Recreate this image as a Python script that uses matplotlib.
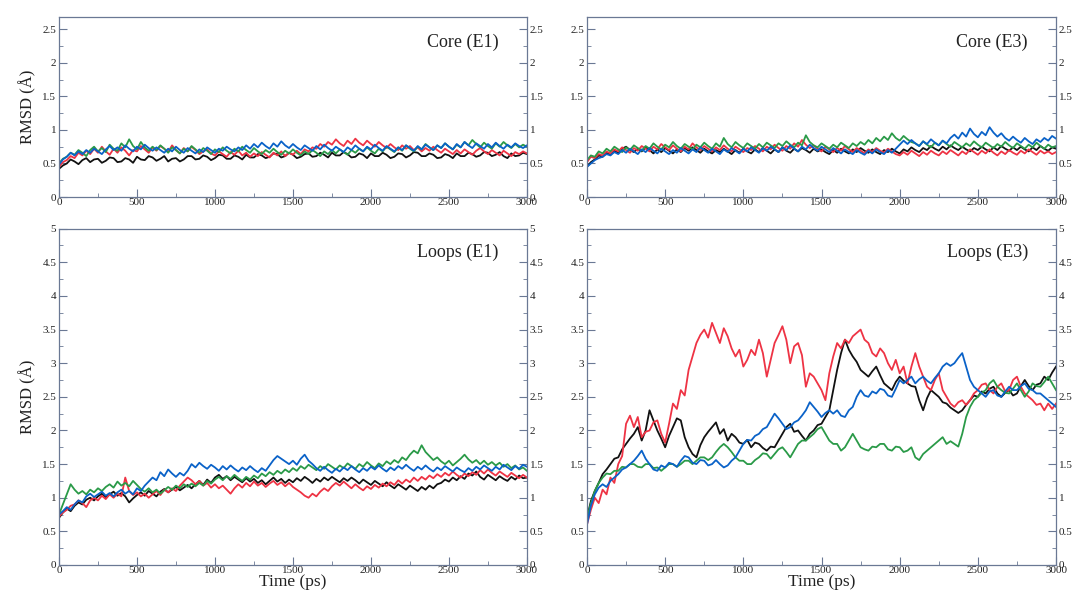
import numpy as np
import matplotlib
matplotlib.use("Agg")
import matplotlib.pyplot as plt
from matplotlib.ticker import MultipleLocator

# RMSD traces, one value every 25 ps (0 .. 3000 ps)
core_e1_black = [0.42, 0.47, 0.50, 0.56, 0.53, 0.49, 0.55, 0.58, 0.52, 0.56, 0.57, 0.51, 0.54, 0.59, 0.58, 0.52,
                 0.53, 0.58, 0.56, 0.51, 0.60, 0.56, 0.55, 0.61, 0.59, 0.54, 0.57, 0.61, 0.53, 0.57, 0.58, 0.53,
                 0.56, 0.61, 0.61, 0.56, 0.57, 0.62, 0.60, 0.55, 0.58, 0.63, 0.62, 0.57, 0.57, 0.62, 0.60, 0.56,
                 0.63, 0.59, 0.59, 0.64, 0.62, 0.58, 0.60, 0.65, 0.64, 0.59, 0.61, 0.66, 0.63, 0.58, 0.60, 0.64,
                 0.65, 0.60, 0.61, 0.66, 0.63, 0.59, 0.66, 0.62, 0.62, 0.67, 0.64, 0.59, 0.60, 0.65, 0.63, 0.58,
                 0.65, 0.61, 0.61, 0.66, 0.63, 0.58, 0.60, 0.65, 0.64, 0.59, 0.62, 0.67, 0.66, 0.61, 0.61, 0.65,
                 0.63, 0.58, 0.59, 0.64, 0.62, 0.58, 0.65, 0.61, 0.61, 0.66, 0.64, 0.60, 0.62, 0.67, 0.66, 0.61,
                 0.63, 0.67, 0.61, 0.58, 0.65, 0.61, 0.62, 0.66, 0.64]
core_e1_red = [0.45, 0.52, 0.55, 0.61, 0.58, 0.66, 0.62, 0.69, 0.64, 0.72, 0.66, 0.75, 0.68, 0.63, 0.72, 0.66,
               0.74, 0.69, 0.62, 0.70, 0.68, 0.76, 0.71, 0.66, 0.74, 0.69, 0.76, 0.72, 0.67, 0.77, 0.70, 0.65,
               0.73, 0.68, 0.75, 0.70, 0.64, 0.68, 0.71, 0.65, 0.62, 0.68, 0.64, 0.60, 0.67, 0.63, 0.69, 0.62,
               0.66, 0.60, 0.65, 0.61, 0.67, 0.63, 0.59, 0.66, 0.62, 0.68, 0.61, 0.66, 0.63, 0.69, 0.64, 0.71,
               0.68, 0.74, 0.72, 0.79, 0.75, 0.82, 0.78, 0.86, 0.80, 0.76, 0.84, 0.79, 0.87, 0.81, 0.77, 0.84,
               0.79, 0.75, 0.82, 0.77, 0.73, 0.79, 0.74, 0.70, 0.77, 0.72, 0.76, 0.70, 0.74, 0.68, 0.73, 0.69,
               0.75, 0.70, 0.66, 0.72, 0.68, 0.64, 0.70, 0.65, 0.71, 0.67, 0.63, 0.69, 0.73, 0.68, 0.64, 0.70,
               0.66, 0.62, 0.69, 0.65, 0.61, 0.67, 0.64, 0.68, 0.65]
core_e1_green = [0.50, 0.57, 0.60, 0.66, 0.63, 0.70, 0.66, 0.61, 0.70, 0.75, 0.68, 0.73, 0.67, 0.78, 0.72, 0.69,
                 0.80, 0.74, 0.86, 0.76, 0.71, 0.82, 0.74, 0.69, 0.75, 0.70, 0.77, 0.72, 0.66, 0.74, 0.70, 0.65,
                 0.72, 0.68, 0.76, 0.71, 0.66, 0.73, 0.69, 0.64, 0.71, 0.67, 0.74, 0.69, 0.65, 0.72, 0.68, 0.75,
                 0.70, 0.66, 0.73, 0.68, 0.64, 0.70, 0.66, 0.72, 0.67, 0.63, 0.69, 0.65, 0.71, 0.66, 0.62, 0.68,
                 0.64, 0.70, 0.66, 0.61, 0.68, 0.64, 0.70, 0.65, 0.71, 0.67, 0.63, 0.70, 0.66, 0.72, 0.68, 0.74,
                 0.69, 0.65, 0.72, 0.68, 0.75, 0.71, 0.67, 0.74, 0.69, 0.77, 0.72, 0.68, 0.75, 0.71, 0.79, 0.74,
                 0.70, 0.77, 0.73, 0.80, 0.75, 0.71, 0.78, 0.74, 0.82, 0.77, 0.85, 0.79, 0.74, 0.81, 0.76, 0.72,
                 0.80, 0.75, 0.82, 0.77, 0.73, 0.79, 0.74, 0.78, 0.75]
core_e1_blue = [0.48, 0.56, 0.60, 0.66, 0.62, 0.68, 0.64, 0.70, 0.66, 0.72, 0.68, 0.64, 0.71, 0.76, 0.70, 0.74,
                0.69, 0.77, 0.72, 0.68, 0.75, 0.71, 0.78, 0.73, 0.69, 0.74, 0.70, 0.66, 0.72, 0.68, 0.75, 0.70,
                0.66, 0.73, 0.69, 0.65, 0.71, 0.67, 0.74, 0.70, 0.66, 0.72, 0.69, 0.75, 0.71, 0.68, 0.74, 0.70,
                0.77, 0.72, 0.79, 0.74, 0.81, 0.76, 0.72, 0.80, 0.75, 0.83, 0.77, 0.73, 0.79, 0.74, 0.70, 0.77,
                0.73, 0.69, 0.76, 0.71, 0.78, 0.73, 0.69, 0.75, 0.71, 0.67, 0.74, 0.70, 0.77, 0.72, 0.68, 0.75,
                0.71, 0.78, 0.73, 0.69, 0.76, 0.72, 0.68, 0.74, 0.70, 0.77, 0.73, 0.69, 0.76, 0.71, 0.78, 0.74,
                0.70, 0.77, 0.73, 0.80, 0.75, 0.71, 0.79, 0.74, 0.82, 0.77, 0.73, 0.80, 0.76, 0.72, 0.79, 0.74,
                0.81, 0.76, 0.72, 0.78, 0.74, 0.80, 0.76, 0.73, 0.77]

core_e3_black = [0.45, 0.52, 0.56, 0.62, 0.60, 0.66, 0.63, 0.69, 0.66, 0.72, 0.75, 0.70, 0.67, 0.72, 0.68, 0.74,
                 0.70, 0.65, 0.71, 0.67, 0.73, 0.69, 0.65, 0.71, 0.67, 0.73, 0.69, 0.74, 0.70, 0.66, 0.72, 0.68,
                 0.65, 0.70, 0.67, 0.72, 0.68, 0.64, 0.70, 0.66, 0.72, 0.68, 0.65, 0.71, 0.67, 0.73, 0.69, 0.65,
                 0.71, 0.67, 0.74, 0.69, 0.66, 0.72, 0.68, 0.73, 0.70, 0.66, 0.72, 0.68, 0.71, 0.67, 0.64, 0.70,
                 0.66, 0.72, 0.68, 0.65, 0.71, 0.67, 0.73, 0.69, 0.66, 0.71, 0.67, 0.64, 0.70, 0.67, 0.72, 0.68,
                 0.65, 0.71, 0.68, 0.74, 0.70, 0.67, 0.73, 0.70, 0.76, 0.72, 0.69, 0.75, 0.71, 0.77, 0.73, 0.70,
                 0.75, 0.71, 0.68, 0.73, 0.70, 0.75, 0.71, 0.68, 0.74, 0.70, 0.76, 0.72, 0.69, 0.74, 0.70, 0.75,
                 0.71, 0.68, 0.74, 0.70, 0.76, 0.72, 0.69, 0.74, 0.72]
core_e3_red = [0.52, 0.60, 0.58, 0.64, 0.62, 0.68, 0.65, 0.71, 0.68, 0.74, 0.70, 0.66, 0.73, 0.69, 0.76, 0.72,
               0.68, 0.75, 0.71, 0.79, 0.74, 0.70, 0.77, 0.72, 0.68, 0.75, 0.71, 0.80, 0.74, 0.70, 0.76, 0.72,
               0.68, 0.74, 0.70, 0.77, 0.72, 0.68, 0.75, 0.71, 0.67, 0.73, 0.70, 0.76, 0.72, 0.68, 0.75, 0.71,
               0.78, 0.73, 0.69, 0.76, 0.72, 0.80, 0.75, 0.85, 0.78, 0.73, 0.77, 0.72, 0.68, 0.75, 0.71, 0.67,
               0.73, 0.69, 0.76, 0.71, 0.67, 0.73, 0.69, 0.65, 0.71, 0.67, 0.73, 0.69, 0.66, 0.72, 0.68, 0.64,
               0.62, 0.67, 0.63, 0.69, 0.65, 0.61, 0.67, 0.63, 0.69, 0.65, 0.62, 0.68, 0.64, 0.70, 0.66, 0.62,
               0.68, 0.64, 0.71, 0.67, 0.63, 0.69, 0.65, 0.71, 0.66, 0.62, 0.68, 0.64, 0.70, 0.66, 0.63, 0.69,
               0.65, 0.71, 0.67, 0.63, 0.69, 0.65, 0.68, 0.64, 0.67]
core_e3_green = [0.55, 0.62, 0.60, 0.68, 0.65, 0.72, 0.68, 0.75, 0.71, 0.67, 0.74, 0.70, 0.77, 0.73, 0.69, 0.76,
                 0.72, 0.80, 0.75, 0.71, 0.78, 0.74, 0.82, 0.76, 0.72, 0.79, 0.75, 0.71, 0.78, 0.74, 0.81, 0.76,
                 0.72, 0.80, 0.75, 0.88, 0.79, 0.74, 0.82, 0.77, 0.73, 0.80, 0.76, 0.72, 0.79, 0.74, 0.81, 0.77,
                 0.73, 0.80, 0.76, 0.83, 0.78, 0.74, 0.81, 0.77, 0.92, 0.82, 0.77, 0.74, 0.80, 0.76, 0.72, 0.78,
                 0.74, 0.81, 0.77, 0.73, 0.80, 0.76, 0.82, 0.78, 0.85, 0.80, 0.88, 0.83, 0.90, 0.85, 0.95, 0.88,
                 0.84, 0.91, 0.86, 0.82, 0.80, 0.76, 0.83, 0.78, 0.74, 0.81, 0.77, 0.84, 0.79, 0.75, 0.82, 0.78,
                 0.74, 0.80, 0.76, 0.83, 0.78, 0.74, 0.81, 0.77, 0.73, 0.79, 0.75, 0.82, 0.77, 0.73, 0.80, 0.76,
                 0.72, 0.78, 0.74, 0.81, 0.76, 0.72, 0.78, 0.74, 0.76]
core_e3_blue = [0.45, 0.50, 0.55, 0.58, 0.60, 0.64, 0.62, 0.67, 0.64, 0.70, 0.66, 0.72, 0.68, 0.64, 0.71, 0.67,
                0.73, 0.69, 0.65, 0.72, 0.68, 0.64, 0.70, 0.66, 0.73, 0.69, 0.65, 0.71, 0.67, 0.74, 0.70, 0.66,
                0.72, 0.68, 0.64, 0.71, 0.67, 0.73, 0.69, 0.65, 0.72, 0.68, 0.74, 0.70, 0.66, 0.73, 0.69, 0.75,
                0.71, 0.67, 0.74, 0.70, 0.77, 0.72, 0.68, 0.75, 0.71, 0.78, 0.73, 0.69, 0.75, 0.71, 0.67, 0.73,
                0.69, 0.65, 0.71, 0.67, 0.64, 0.70, 0.66, 0.63, 0.69, 0.65, 0.71, 0.67, 0.64, 0.70, 0.66, 0.72,
                0.78, 0.84, 0.79, 0.85, 0.80, 0.76, 0.83, 0.79, 0.86, 0.81, 0.77, 0.84, 0.80, 0.88, 0.93, 0.87,
                0.96, 0.90, 1.02, 0.94, 0.89, 0.97, 0.92, 1.04, 0.96, 0.90, 0.95, 0.88, 0.84, 0.90, 0.85, 0.81,
                0.88, 0.83, 0.79, 0.86, 0.82, 0.88, 0.84, 0.91, 0.87]

loops_e1_black = [0.70, 0.78, 0.84, 0.80, 0.88, 0.93, 0.90, 0.97, 1.00, 0.96, 1.02, 1.06, 1.01, 1.05, 1.09, 1.03,
                  1.07, 1.02, 0.93, 0.99, 1.04, 1.08, 1.03, 1.10, 1.06, 1.02, 1.09, 1.13, 1.08, 1.12, 1.16, 1.11,
                  1.15, 1.19, 1.14, 1.20, 1.25, 1.19, 1.27, 1.22, 1.30, 1.34, 1.28, 1.32, 1.26, 1.31, 1.27, 1.23,
                  1.29, 1.24, 1.28, 1.22, 1.26, 1.20, 1.25, 1.30, 1.24, 1.28, 1.22, 1.27, 1.23, 1.29, 1.25, 1.31,
                  1.27, 1.22, 1.28, 1.24, 1.30, 1.26, 1.31, 1.27, 1.23, 1.29, 1.25, 1.30, 1.26, 1.21, 1.27, 1.23,
                  1.19, 1.25, 1.21, 1.17, 1.23, 1.18, 1.14, 1.20, 1.16, 1.12, 1.18, 1.14, 1.10, 1.16, 1.12, 1.18,
                  1.14, 1.20, 1.22, 1.27, 1.24, 1.30, 1.26, 1.32, 1.28, 1.36, 1.33, 1.39, 1.31, 1.27, 1.34, 1.30,
                  1.26, 1.32, 1.28, 1.25, 1.31, 1.27, 1.33, 1.29, 1.30]
loops_e1_red = [0.72, 0.78, 0.82, 0.88, 0.90, 0.96, 0.92, 0.86, 0.96, 1.00, 0.96, 1.03, 0.98, 1.05, 1.00, 1.06,
                1.02, 1.30, 1.10, 1.04, 1.08, 1.02, 1.06, 1.00, 1.05, 1.10, 1.04, 1.12, 1.08, 1.14, 1.10, 1.18,
                1.24, 1.30, 1.26, 1.20, 1.25, 1.18, 1.22, 1.15, 1.20, 1.14, 1.18, 1.12, 1.06, 1.14, 1.20, 1.15,
                1.22, 1.17, 1.24, 1.18, 1.22, 1.16, 1.21, 1.25, 1.19, 1.23, 1.17, 1.22, 1.16, 1.12, 1.08, 1.03,
                1.00, 1.06, 1.02, 1.09, 1.14, 1.10, 1.17, 1.22, 1.18, 1.24, 1.19, 1.14, 1.20, 1.15, 1.11, 1.17,
                1.13, 1.19, 1.15, 1.21, 1.17, 1.23, 1.19, 1.26, 1.21, 1.27, 1.23, 1.30, 1.25, 1.31, 1.27, 1.33,
                1.29, 1.35, 1.31, 1.37, 1.33, 1.39, 1.34, 1.30, 1.36, 1.32, 1.38, 1.34, 1.41, 1.36, 1.42, 1.37,
                1.33, 1.39, 1.35, 1.31, 1.37, 1.33, 1.29, 1.34, 1.30]
loops_e1_green = [0.75, 0.90, 1.05, 1.20, 1.12, 1.06, 1.10, 1.05, 1.12, 1.08, 1.14, 1.10, 1.16, 1.20, 1.15, 1.24,
                  1.18, 1.22, 1.17, 1.25, 1.19, 1.13, 1.09, 1.14, 1.08, 1.12, 1.06, 1.11, 1.16, 1.12, 1.18, 1.14,
                  1.20, 1.16, 1.21, 1.17, 1.22, 1.18, 1.25, 1.21, 1.27, 1.31, 1.26, 1.32, 1.28, 1.34, 1.29, 1.25,
                  1.31, 1.27, 1.33, 1.29, 1.36, 1.32, 1.38, 1.34, 1.40, 1.36, 1.42, 1.38, 1.44, 1.40, 1.47, 1.43,
                  1.49, 1.45, 1.41, 1.47, 1.43, 1.50, 1.46, 1.42, 1.48, 1.44, 1.51, 1.47, 1.43, 1.50, 1.46, 1.53,
                  1.48, 1.44, 1.51, 1.47, 1.54, 1.50, 1.56, 1.52, 1.60, 1.56, 1.64, 1.70, 1.66, 1.78, 1.68, 1.62,
                  1.56, 1.60, 1.54, 1.50, 1.55, 1.48, 1.53, 1.58, 1.64, 1.57, 1.52, 1.56, 1.50, 1.55, 1.49, 1.53,
                  1.48, 1.52, 1.46, 1.50, 1.44, 1.48, 1.42, 1.45, 1.40]
loops_e1_blue = [0.75, 0.80, 0.86, 0.82, 0.90, 0.96, 0.93, 1.02, 1.06, 1.01, 1.05, 1.09, 1.03, 1.07, 1.02, 1.08,
                 1.12, 1.06, 1.10, 1.05, 1.14, 1.10, 1.18, 1.24, 1.30, 1.26, 1.38, 1.32, 1.42, 1.36, 1.31, 1.37,
                 1.33, 1.40, 1.50, 1.45, 1.52, 1.47, 1.43, 1.49, 1.45, 1.40, 1.47, 1.42, 1.48, 1.43, 1.39, 1.45,
                 1.41, 1.47, 1.42, 1.38, 1.44, 1.40, 1.48, 1.56, 1.62, 1.58, 1.54, 1.50, 1.55, 1.49, 1.58, 1.64,
                 1.55, 1.50, 1.44, 1.40, 1.46, 1.41, 1.37, 1.43, 1.39, 1.45, 1.41, 1.47, 1.42, 1.38, 1.44, 1.40,
                 1.46, 1.42, 1.48, 1.43, 1.39, 1.45, 1.41, 1.47, 1.43, 1.49, 1.44, 1.40, 1.46, 1.42, 1.48, 1.43,
                 1.39, 1.45, 1.41, 1.47, 1.43, 1.39, 1.45, 1.41, 1.38, 1.44, 1.40, 1.46, 1.42, 1.48, 1.44, 1.40,
                 1.46, 1.42, 1.49, 1.45, 1.41, 1.47, 1.43, 1.49, 1.46]

loops_e3_black = [0.70, 0.95, 1.10, 1.22, 1.35, 1.42, 1.50, 1.58, 1.60, 1.72, 1.80, 1.88, 1.95, 2.05, 1.85, 2.00,
                  2.30, 2.15, 2.00, 1.88, 1.75, 1.92, 2.05, 2.18, 2.15, 1.90, 1.75, 1.65, 1.60, 1.78, 1.90, 1.98,
                  2.05, 2.12, 1.95, 2.02, 1.85, 1.95, 1.90, 1.82, 1.80, 1.86, 1.75, 1.82, 1.80, 1.74, 1.70, 1.76,
                  1.75, 1.85, 1.95, 2.05, 2.10, 1.98, 2.00, 1.92, 1.85, 1.95, 2.00, 2.08, 2.10, 2.20, 2.30, 2.60,
                  2.90, 3.15, 3.35, 3.20, 3.10, 3.02, 2.90, 2.85, 2.80, 2.88, 2.95, 2.82, 2.70, 2.65, 2.60, 2.72,
                  2.80, 2.74, 2.70, 2.66, 2.65, 2.45, 2.30, 2.48, 2.60, 2.55, 2.50, 2.42, 2.40, 2.34, 2.30, 2.26,
                  2.30, 2.38, 2.45, 2.52, 2.50, 2.58, 2.55, 2.62, 2.65, 2.55, 2.50, 2.56, 2.60, 2.52, 2.55, 2.66,
                  2.75, 2.66, 2.60, 2.68, 2.70, 2.80, 2.75, 2.86, 2.95]
loops_e3_red = [0.60, 0.82, 1.00, 0.92, 1.12, 1.05, 1.30, 1.22, 1.50, 1.62, 2.10, 2.22, 2.05, 2.20, 1.90, 1.98,
                2.00, 2.12, 2.15, 1.95, 1.82, 2.10, 2.40, 2.32, 2.60, 2.52, 2.90, 3.10, 3.30, 3.42, 3.50, 3.38,
                3.60, 3.45, 3.30, 3.52, 3.40, 3.22, 3.10, 3.20, 2.95, 3.05, 3.20, 3.12, 3.35, 3.15, 2.80, 3.05,
                3.30, 3.42, 3.55, 3.35, 3.00, 3.25, 3.30, 3.12, 2.65, 2.85, 2.80, 2.70, 2.60, 2.45, 2.85, 3.10,
                3.30, 3.22, 3.35, 3.30, 3.40, 3.45, 3.50, 3.35, 3.30, 3.15, 3.10, 3.22, 3.15, 3.00, 2.90, 3.05,
                2.85, 2.95, 2.70, 2.95, 3.15, 2.95, 2.80, 2.65, 2.60, 2.75, 2.85, 2.60, 2.50, 2.40, 2.35, 2.42,
                2.45, 2.38, 2.45, 2.55, 2.60, 2.68, 2.70, 2.60, 2.55, 2.65, 2.70, 2.58, 2.60, 2.75, 2.80, 2.65,
                2.55, 2.50, 2.45, 2.38, 2.40, 2.30, 2.40, 2.32, 2.40]
loops_e3_green = [0.70, 0.92, 1.10, 1.22, 1.30, 1.36, 1.35, 1.40, 1.40, 1.46, 1.45, 1.50, 1.50, 1.46, 1.45, 1.50,
                  1.50, 1.44, 1.45, 1.40, 1.45, 1.50, 1.50, 1.46, 1.50, 1.55, 1.55, 1.50, 1.55, 1.60, 1.60, 1.56,
                  1.60, 1.68, 1.75, 1.80, 1.75, 1.68, 1.60, 1.55, 1.55, 1.50, 1.50, 1.56, 1.60, 1.66, 1.65, 1.58,
                  1.65, 1.72, 1.75, 1.68, 1.60, 1.70, 1.80, 1.85, 1.85, 1.90, 1.95, 2.02, 2.05, 1.95, 1.85, 1.80,
                  1.80, 1.70, 1.75, 1.85, 1.95, 1.85, 1.75, 1.72, 1.70, 1.76, 1.75, 1.80, 1.80, 1.72, 1.70, 1.76,
                  1.75, 1.68, 1.70, 1.75, 1.60, 1.56, 1.65, 1.70, 1.75, 1.80, 1.85, 1.90, 1.80, 1.84, 1.80, 1.76,
                  1.95, 2.20, 2.35, 2.45, 2.50, 2.56, 2.60, 2.70, 2.75, 2.65, 2.60, 2.56, 2.55, 2.62, 2.70, 2.60,
                  2.50, 2.58, 2.70, 2.66, 2.65, 2.72, 2.80, 2.70, 2.60]
loops_e3_blue = [0.60, 0.88, 1.05, 1.15, 1.20, 1.16, 1.25, 1.30, 1.35, 1.42, 1.45, 1.50, 1.55, 1.62, 1.70, 1.58,
                 1.50, 1.42, 1.40, 1.48, 1.45, 1.52, 1.50, 1.46, 1.55, 1.62, 1.60, 1.52, 1.50, 1.56, 1.55, 1.48,
                 1.50, 1.56, 1.50, 1.45, 1.48, 1.55, 1.60, 1.70, 1.80, 1.86, 1.85, 1.92, 1.95, 2.02, 2.05, 2.15,
                 2.25, 2.18, 2.10, 2.02, 2.05, 2.12, 2.15, 2.22, 2.30, 2.42, 2.35, 2.28, 2.20, 2.26, 2.30, 2.25,
                 2.30, 2.22, 2.20, 2.30, 2.35, 2.50, 2.60, 2.52, 2.50, 2.58, 2.55, 2.62, 2.60, 2.52, 2.50, 2.62,
                 2.75, 2.70, 2.75, 2.80, 2.70, 2.76, 2.80, 2.74, 2.70, 2.78, 2.85, 2.95, 3.00, 2.96, 3.00, 3.08,
                 3.15, 2.95, 2.75, 2.65, 2.60, 2.55, 2.50, 2.58, 2.60, 2.52, 2.50, 2.58, 2.65, 2.60, 2.60, 2.66,
                 2.70, 2.62, 2.60, 2.55, 2.55, 2.50, 2.45, 2.40, 2.35]

colors = {"black": "#111111", "red": "#ee3344", "green": "#2a9a48", "blue": "#0a62c8"}
frame = "#6a7894"

panels = [
    ("Core (E1)", [core_e1_black, core_e1_red, core_e1_green, core_e1_blue], 2.68),
    ("Core (E3)", [core_e3_black, core_e3_red, core_e3_green, core_e3_blue], 2.68),
    ("Loops (E1)", [loops_e1_black, loops_e1_red, loops_e1_green, loops_e1_blue], 5.0),
    ("Loops (E3)", [loops_e3_black, loops_e3_red, loops_e3_green, loops_e3_blue], 5.0),
]
boxes = [
    [0.0546, 0.666, 0.4333, 0.305],
    [0.5435, 0.666, 0.4343, 0.305],
    [0.0546, 0.0424, 0.4333, 0.570],
    [0.5435, 0.0424, 0.4343, 0.570],
]

plt.rcParams["font.family"] = ["Liberation Serif", "DejaVu Serif"]

fig = plt.figure(figsize=(10.8, 5.9), dpi=100)
for i, (title, series, ymax) in enumerate(panels):
    ax = fig.add_axes(boxes[i])
    for vals, c in zip(series, ["black", "red", "green", "blue"]):
        t = np.linspace(0, 3000, len(vals))
        ax.plot(t, vals, color=colors[c], lw=1.3)
    ax.set_xlim(0, 3000)
    ax.set_ylim(0, ymax)
    ax.xaxis.set_major_locator(MultipleLocator(500))
    ax.xaxis.set_minor_locator(MultipleLocator(250))
    ax.yaxis.set_major_locator(MultipleLocator(0.5))
    ax.yaxis.set_minor_locator(MultipleLocator(0.25))
    ax.tick_params(which="both", direction="in", colors=frame, labelcolor="#222222",
                   labelsize=8, left=True, right=True, top=False, labelright=True, pad=2)
    ax.tick_params(axis="x", pad=1)
    ax.tick_params(which="major", length=6, width=0.8)
    ax.tick_params(which="minor", length=3, width=0.6)
    for sp in ax.spines.values():
        sp.set_color(frame)
        sp.set_linewidth(0.9)
    ax.yaxis.set_major_formatter(plt.FuncFormatter(lambda v, p: f"{v:g}"))
    ax.text(0.94, 0.86 if ymax < 3 else 0.93, title, transform=ax.transAxes,
            ha="right", va="center", fontsize=13, color="#222222")
    if i % 2 == 0:
        ax.set_ylabel("RMSD (Å)", fontsize=12, labelpad=4, color="#222222")
    if i >= 2:
        ax.set_xlabel("Time (ps)", fontsize=12.5, labelpad=-1, color="#222222")

fig.savefig("out.png", dpi=100)
